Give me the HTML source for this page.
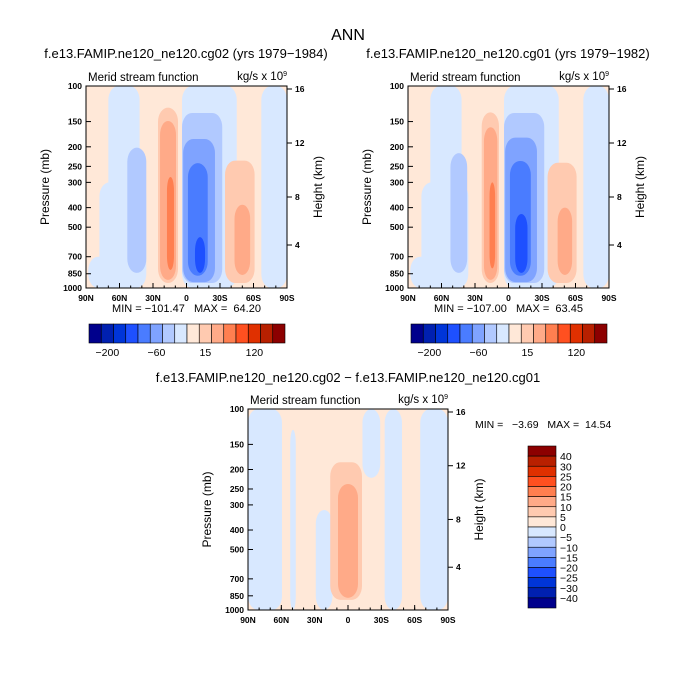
<!DOCTYPE html>
<html><head><meta charset="utf-8"><style>
body{margin:0;background:#fff}
svg{display:block;font-family:"Liberation Sans",sans-serif}
text{white-space:pre}
</style></head><body>
<svg id="s" width="696" height="695" viewBox="0 0 696 695"></svg>
<script>
const colors=["#00008c","#0020b0","#0035d8","#1e50ff","#4a7cff","#7fa3ff","#b1c9ff","#d8e8ff","#ffe8d8","#ffcab0","#ffaa88","#ff7f50","#ff5020","#e03000","#b82000","#8c0000"];
const latTicks=[90,60,30,0,-30,-60,-90];
const latLabels=["90N","60N","30N","0","30S","60S","90S"];
const pTicks=[100,150,200,250,300,400,500,700,850,1000];
const zTicks=[16,12,8,4];
const zPos=[3,57,111,159];
// blobs: [lat1, lat2, pTop, pBottom, level]
const blobsA=[[70,42,100,1000,7],[78,36,300,1000,7],[88,40,700,1000,7],[53,36,202,842,6],[25.5,7.6,128,945,9],[23.7,9.4,149,912,10],[17.5,11.2,282,814,11],[4,-45,100,1000,7],[4,-32,136,945,6],[3,-25.5,183,935,5],[-1.3,-19,241,870,4],[-7.6,-16.6,560,842,3],[-34.5,-61,234,945,9],[-43,-57,387,862,10],[-67,-90,100,1000,7]];
const blobsB=[[70,42,100,1000,7],[78,36,300,1000,7],[88,40,700,1000,7],[52,37,215,842,6],[24,8.5,135,945,9],[22,10,160,912,10],[17,12,300,800,11],[4,-45,100,1000,7],[4,-32,136,945,6],[3,-25.5,180,935,5],[-1.3,-20,235,870,4],[-6,-17,430,842,3],[-35,-61,240,945,9],[-44,-57,400,862,10],[-67,-90,100,1000,7]];
const blobsC=[[90,59.4,100,1000,7],[52,47,127,1000,7],[29,14,318,1000,7],[-13,-29,100,220,7],[-33,-48.6,100,1000,7],[-65,-90,100,1000,7],[16,-12.6,184,890,9],[9,-9,236,870,10]];
const barLabelsTop=["−200","−60","15","120"];
const barLabelIdx=[1,5,9,13];
const barLabelsSide=["40","30","25","20","15","10","5","0","−5","−10","−15","−20","−25","−30","−40"];
const S=document.getElementById('s');const NS="http://www.w3.org/2000/svg";
function el(t,a,p){const e=document.createElementNS(NS,t);for(const k in a)e.setAttribute(k,a[k]);(p||S).appendChild(e);return e;}
function txt(x,y,s,size,anchor,p,extra){const e=el('text',Object.assign({x:x,y:y,'font-size':size,'text-anchor':anchor||'middle',fill:'#000'},extra||{}),p);e.textContent=s;return e;}
function panel(x0,y0,w,h,blobs,name,stats){
  const g=el('g',{});
  const X=lat=>x0+(90-lat)/180*w, Y=p=>y0+h*Math.log10(p/100);
  const clip='c'+name;const cp=el('clipPath',{id:clip},g);el('rect',{x:x0,y:y0,width:w,height:h},cp);
  const f=el('g',{'clip-path':'url(#'+clip+')'},g);
  el('rect',{x:x0,y:y0,width:w,height:h,fill:colors[8]},f);
  blobs.forEach(b=>{const xa=X(b[0]),xb=X(b[1]),ya=Y(b[2]),yb=Y(b[3]);const bw=xb-xa;
    const r=el('rect',{x:xa,y:ya,width:bw,height:yb-ya,rx:Math.min(bw/2,10),ry:Math.min(14,(yb-ya)/2),fill:colors[b[4]]},f);
    });
  el('rect',{x:x0,y:y0,width:w,height:h,fill:'none',stroke:'#000','stroke-width':1},g);
  latTicks.forEach((l,i)=>{const x=X(l);el('line',{x1:x,x2:x,y1:y0+h,y2:y0+h-5,stroke:'#000'},g);txt(x,y0+h+13,latLabels[i],8.5,'middle',g,{'font-weight':'bold'});});
  for(let l=80;l>-90;l-=10){const x=X(l);el('line',{x1:x,x2:x,y1:y0+h,y2:y0+h-2.5,stroke:'#000'},g);}
  pTicks.forEach(p=>{const y=Y(p);el('line',{x1:x0,x2:x0+5,y1:y,y2:y,stroke:'#000'},g);txt(x0-4,y+3,String(p),8.5,'end',g,{'font-weight':'bold'});});
  zTicks.forEach((z,i)=>{const y=y0+zPos[i]*h/202;el('line',{x1:x0+w,x2:x0+w+5,y1:y,y2:y,stroke:'#000'},g);txt(x0+w+8,y+3,String(z),8.5,'start',g,{'font-weight':'bold'});});
  txt(x0+2,y0-5,'Merid stream function',11.5,'start',g);
  const k=txt(x0+w,y0-6,'kg/s x 10',11.5,'end',g);const sp=el('tspan',{dy:-4,'font-size':7},k);sp.textContent='9';
  txt(0,0,'Pressure (mb)',12,'middle',g,{transform:`translate(${x0-37},${y0+h/2}) rotate(-90)`});
  txt(0,0,'Height (km)',12,'middle',g,{transform:`translate(${x0+w+35},${y0+h/2}) rotate(-90)`});
  if(stats)txt(x0+w/2,y0+h+24,stats,11,'middle',g);
}
txt(348,40,'ANN',16,'middle',S);
txt(186,58,'f.e13.FAMIP.ne120_ne120.cg02 (yrs 1979−1984)',13,'middle',S);
txt(508,58,'f.e13.FAMIP.ne120_ne120.cg01 (yrs 1979−1982)',13,'middle',S);
txt(348,382,'f.e13.FAMIP.ne120_ne120.cg02 − f.e13.FAMIP.ne120_ne120.cg01',13,'middle',S);
panel(86,86,201,202,blobsA,'panel-cg02','MIN = −101.47   MAX =  64.20');
panel(408,86,201,202,blobsB,'panel-cg01','MIN = −107.00   MAX =  63.45');
panel(248,409,200,201,blobsC,'panel-diff',null);
txt(475,428,'MIN =   −3.69   MAX =  14.54',10.5,'start',S);
function hbar(x0,name){const g=el('g',{});
  const bw=196/16;colors.forEach((c,i)=>{el('rect',{x:x0+i*bw,y:324,width:bw,height:19,fill:c,stroke:'#000','stroke-width':0.6},g);});
  barLabelsTop.forEach((s,i)=>txt(x0+barLabelIdx[i]*bw+bw/2,356,s,10.5,'middle',g));}
hbar(89,'colorbar-cg02');hbar(411,'colorbar-cg01');
(function(){const g=el('g',{});
  const bh=162/16;for(let i=0;i<16;i++){el('rect',{x:528,y:446+i*bh,width:28,height:bh,fill:colors[15-i],stroke:'#000','stroke-width':0.6},g);}
  barLabelsSide.forEach((s,i)=>txt(560,446+(i+1)*bh+4,s,10.5,'start',g));})();
</script>
</body></html>
